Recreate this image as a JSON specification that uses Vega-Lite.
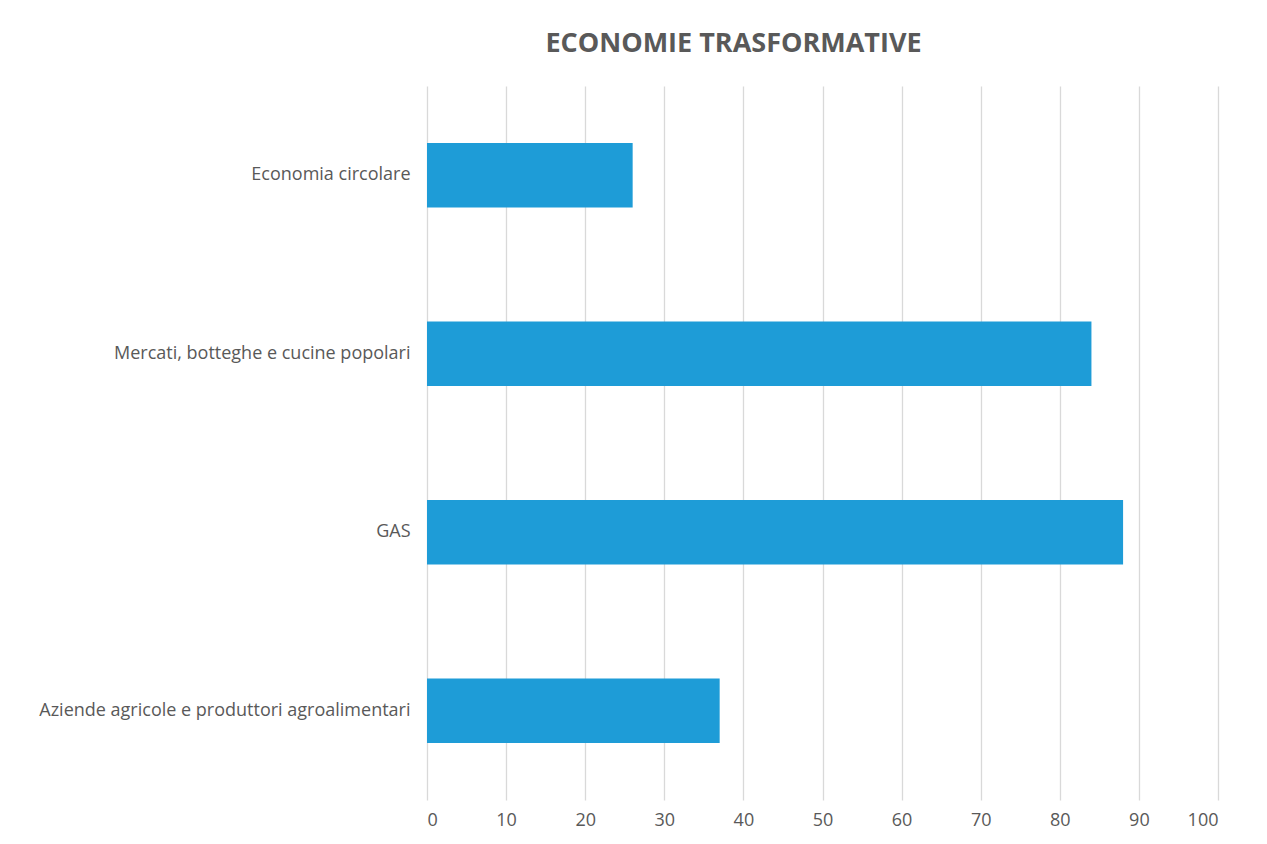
{
  "$schema": "https://vega.github.io/schema/vega-lite/v6.json",
  "autosize": {"type": "none"},
  "padding": {"left": 427, "top": 86, "right": 49, "bottom": 44},
  "width": 791,
  "height": 714,
  "background": "white",
  "title": {
    "text": "ECONOMIE TRASFORMATIVE",
    "font": "Open Sans",
    "fontSize": 27,
    "fontWeight": "bold",
    "color": "#595959",
    "anchor": "middle",
    "dx": -89,
    "offset": 28
  },
  "data": {
    "values": [
      {"categoria": "Economia circolare", "valore": 26},
      {"categoria": "Mercati, botteghe e cucine popolari", "valore": 84},
      {"categoria": "GAS", "valore": 88},
      {"categoria": "Aziende agricole e produttori agroalimentari", "valore": 37}
    ]
  },
  "mark": {"type": "bar", "color": "#1E9CD7"},
  "encoding": {
    "y": {
      "field": "categoria",
      "type": "nominal",
      "sort": null,
      "scale": {"paddingInner": 0.64, "paddingOuter": 0.32},
      "axis": {
        "title": null,
        "ticks": false,
        "domain": false,
        "labelPadding": 17,
        "labelFont": "Open Sans",
        "labelFontSize": 18,
        "labelColor": "#595959",
        "labelLimit": 500
      }
    },
    "x": {
      "field": "valore",
      "type": "quantitative",
      "scale": {"domain": [0, 100], "nice": false},
      "axis": {
        "title": null,
        "values": [0, 10, 20, 30, 40, 50, 60, 70, 80, 90, 100],
        "ticks": false,
        "domain": false,
        "grid": true,
        "gridColor": "#D9D9D9",
        "gridWidth": 1.3,
        "labelPadding": 11,
        "labelFont": "Open Sans",
        "labelFontSize": 18,
        "labelColor": "#595959"
      }
    }
  },
  "config": {"view": {"stroke": null}}
}
